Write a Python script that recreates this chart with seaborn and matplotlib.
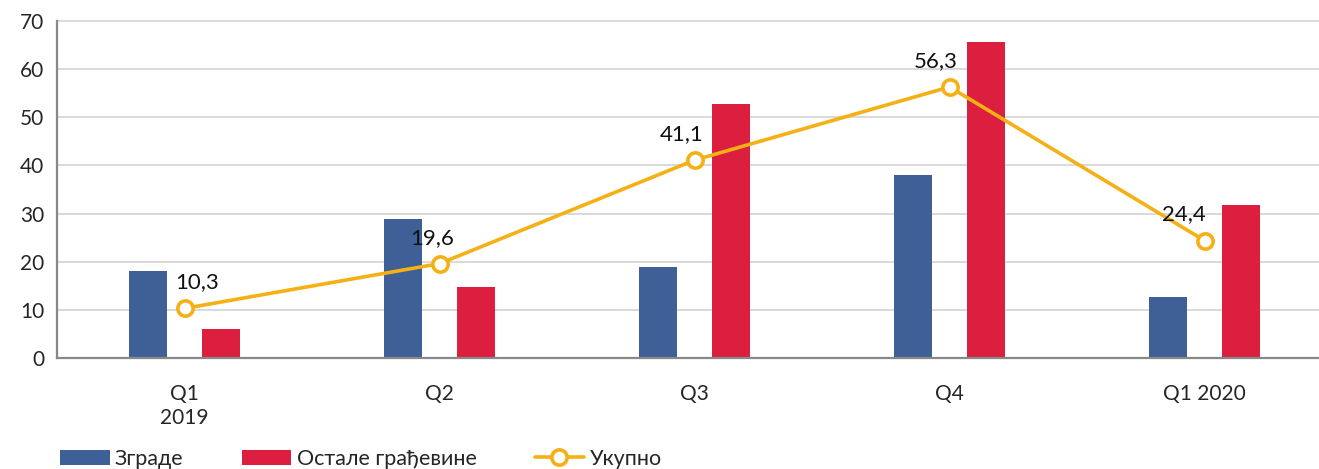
import matplotlib
matplotlib.use("Agg")
import matplotlib.pyplot as plt
import seaborn as sns
import pandas as pd
from matplotlib.patches import Patch
from matplotlib.lines import Line2D

categories = ["Q1\n2019", "Q2", "Q3", "Q4", "Q1 2020"]
zgrade = [18.1, 28.9, 18.9, 38.0, 12.7]
ostale = [6.0, 14.8, 52.8, 65.7, 31.8]
ukupno = [10.3, 19.6, 41.1, 56.3, 24.4]
ukupno_labels = ["10,3", "19,6", "41,1", "56,3", "24,4"]
series_names = ["Зграде", "Остале грађевине", "Укупно"]
yticks = [0, 10, 20, 30, 40, 50, 60, 70]

BLUE = "#3E6096"
RED = "#DC1F3E"
YELLOW = "#F5B015"

sns.set_theme(style="white")
plt.rcParams["font.family"] = ["Lato", "DejaVu Sans"]

df = pd.DataFrame({
    "cat": categories * 2,
    "series": [series_names[0]] * 5 + [series_names[1]] * 5,
    "val": zgrade + ostale,
})

W, H = 1319, 469
fig = plt.figure(figsize=(W / 100, H / 100), dpi=100)
ax = fig.add_axes([57 / W, (H - 358) / H, 1275 / W, (358 - 21) / H])

sns.barplot(data=df, x="cat", y="val", hue="series", order=categories,
            hue_order=series_names[:2], palette=[BLUE, RED], saturation=1,
            width=0.572, gap=0.48, linewidth=0, legend=False, ax=ax,
            errorbar=None, zorder=2)

sns.pointplot(x=categories, y=ukupno, order=categories, color=YELLOW,
              markers="o", linestyles="-", ax=ax, errorbar=None,
              markersize=11, markerfacecolor="white",
              markeredgewidth=2.6, linewidth=2.6, zorder=4)

label_offsets = [(13, 26), (-7, 26), (-13, 26), (-14, 26), (-21, 26)]
for i, (v, t) in enumerate(zip(ukupno, ukupno_labels)):
    ax.annotate(t, (i, v), xytext=label_offsets[i], textcoords="offset pixels",
                ha="center", va="center", fontsize=16, color="#111111", zorder=5)

ax.set_xlim(-0.5, 4.5)
ax.set_ylim(0, 70)
ax.set_yticks(yticks)
ax.set_xlabel("")
ax.set_ylabel("")
ax.yaxis.grid(True, color="#D9D9D9", linewidth=1.4, zorder=0)
ax.xaxis.grid(False)
ax.set_axisbelow(True)
for g in ax.get_ygridlines():
    g.set_clip_on(False)
for s in ["top", "right"]:
    ax.spines[s].set_visible(False)
for s in ["left", "bottom"]:
    ax.spines[s].set_color("#888888")
    ax.spines[s].set_linewidth(1.6)
ax.tick_params(axis="both", length=0, labelsize=15, colors="#262626")
ax.tick_params(axis="y", pad=9)
ax.tick_params(axis="x", pad=19)

handles = [
    Patch(facecolor=BLUE, edgecolor="none"),
    Patch(facecolor=RED, edgecolor="none"),
    Line2D([0], [0], color=YELLOW, lw=2.6, marker="o", markersize=11,
           markerfacecolor="white", markeredgewidth=2.6),
]
fig.legend(handles, series_names, loc="center left",
           bbox_to_anchor=(60 / W, 10 / H), ncol=3, frameon=False,
           fontsize=15.5, handlelength=2.3, handletextpad=0.25,
           columnspacing=2.7, borderpad=0, borderaxespad=0,
           labelcolor="#262626")

fig.savefig("out.png", dpi=100)
